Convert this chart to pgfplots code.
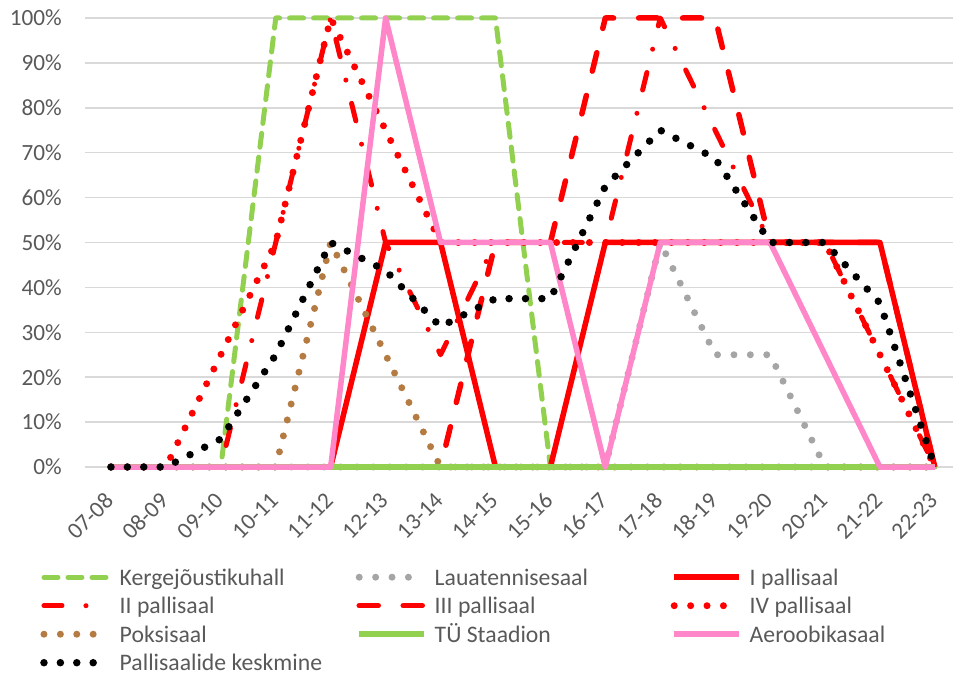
\documentclass[border=0pt]{standalone}
\usepackage{graphicx}
\usepackage{pgfplots}
\usepackage{pgfplotstable}
\pgfplotsset{compat=1.18}
\usepackage{fontspec}
\setmainfont{Carlito}
\definecolor{txt}{HTML}{595959}
\definecolor{gridc}{HTML}{D9D9D9}
\definecolor{kgreen}{HTML}{92D050}
\definecolor{lgrey}{HTML}{A5A5A5}
\definecolor{apink}{HTML}{FF86C8}
\definecolor{pbrown}{HTML}{B47C43}

\pgfplotstableread{
x kerg laua I II III IV poks tu aero avg
0  0   0   0  0   0   0   0  0 0   0
1  0   0   0  0   0   0   0  0 0   0
2  0   0   0  0   0   25  0  0 0   6.25
3  100 0   0  50  0   50  0  0 0   25
4  100 0   0  100 0   100 50 0 0   50
5  100 0   50 50  0   75  25 0 100 43.75
6  100 0   50 25  0   50  0  0 50  31.25
7  100 0   0  50  50  50  0  0 50  37.5
8  0   0   0  50  50  50  0  0 50  37.5
9  0   0   50 50  100 50  0  0 0   62.5
10 0   50  50 100 100 50  0  0 50  75
11 0   25  50 75  100 50  0  0 50  68.75
12 0   25  50 50  50  50  0  0 50  50
13 0   0   50 50  50  50  0  0 25  50
14 0   0   50 25  50  25  0  0 0   36.5
15 0   0   0  0   0   0   0  0 0   0
}\datatable

\newcommand{\lent}[1]{\makebox[236bp][l]{#1}}
\newcommand{\rl}[1]{\rotatebox{45}{#1}}

\begin{document}
\begin{tikzpicture}
\begin{axis}[
  at={(0,0)}, anchor=south west,
  scale only axis, width=868bp, height=449bp,
  xmin=-0.473, xmax=15.33, ymin=0, ymax=100,
  clip=false,
  axis line style={draw=none},
  tick style={draw=none},
  ymajorgrids, grid style={gridc, line width=1.5bp},
  ytick={0,10,...,100},
  yticklabels={0\%,10\%,20\%,30\%,40\%,50\%,60\%,70\%,80\%,90\%,100\%},
  xtick={0,...,15},
  xticklabels={\rl{07-08},\rl{08-09},\rl{09-10},\rl{10-11},\rl{11-12},\rl{12-13},\rl{13-14},\rl{14-15},\rl{15-16},\rl{16-17},\rl{17-18},\rl{18-19},\rl{19-20},\rl{20-21},\rl{21-22},\rl{22-23}},
  ticklabel style={font=\fontsize{23.3}{28}\selectfont, text=txt, inner sep=0pt},
  yticklabel style={anchor=east, xshift=-23bp},
  xticklabel style={anchor=north east, xshift=4bp, yshift=-24bp},
  legend columns=3,
  legend cell align=left,
  legend image code/.code={\draw[#1] (3.5bp,8bp) -- (68.5bp,8bp);},
  legend style={at={(axis description cs:-0.0518,-0.2038)}, anchor=north west,
    draw=none, fill=none, inner sep=0pt, row sep=0pt,
    font=\fontsize{23.8}{28.5}\selectfont, text=txt,
    nodes={inner sep=0pt, anchor=base west, text height=26.5bp, text depth=2bp},
    /tikz/every odd column/.append style={column sep=7bp},
    /tikz/every even column/.append style={column sep=0bp}},
]
\addplot[kgreen, line width=5bp, line cap=round, line join=round, dash pattern=on 14bp off 10bp] table[x=x,y=kerg]{\datatable};
\addlegendentry{\lent{Kergejõustikuhall}}
\addplot[lgrey, line width=7bp, line cap=round, line join=round, dash pattern=on 0bp off 16.4bp] table[x=x,y=laua]{\datatable};
\addlegendentry{\lent{Lauatennisesaal}}
\addplot[red, line width=5.5bp, line join=round] table[x=x,y=I]{\datatable};
\addlegendentry{\lent{I pallisaal}}
\addplot[red, line width=5bp, line cap=round, line join=round, dash pattern=on 18bp off 24bp on 0bp off 24bp] table[x=x,y=II]{\datatable};
\addlegendentry{\lent{II pallisaal}}
\addplot[red, line width=5.5bp, line cap=round, line join=round, dash pattern=on 19bp off 25bp] table[x=x,y=III]{\datatable};
\addlegendentry{\lent{III pallisaal}}
\addplot[red, line width=7bp, line cap=round, line join=round, dash pattern=on 0bp off 16.4bp] table[x=x,y=IV]{\datatable};
\addlegendentry{\lent{IV pallisaal}}
\addplot[pbrown, line width=7bp, line cap=round, line join=round, dash pattern=on 0bp off 16.4bp] table[x=x,y=poks]{\datatable};
\addlegendentry{\lent{Poksisaal}}
\addplot[kgreen, line width=5.5bp, line join=round] table[x=x,y=tu]{\datatable};
\addlegendentry{\lent{TÜ Staadion}}
\addplot[apink, line width=5.5bp, line join=round] table[x=x,y=aero]{\datatable};
\addlegendentry{\lent{Aeroobikasaal}}
\addplot[black, line width=7.5bp, line cap=round, line join=round, dash pattern=on 0bp off 16.4bp] table[x=x,y=avg]{\datatable};
\addlegendentry{\lent{Pallisaalide keskmine}}
\end{axis}
\pgfresetboundingbox
\path[use as bounding box] (-85bp,-208bp) rectangle (868bp,467bp);
\end{tikzpicture}
\end{document}
